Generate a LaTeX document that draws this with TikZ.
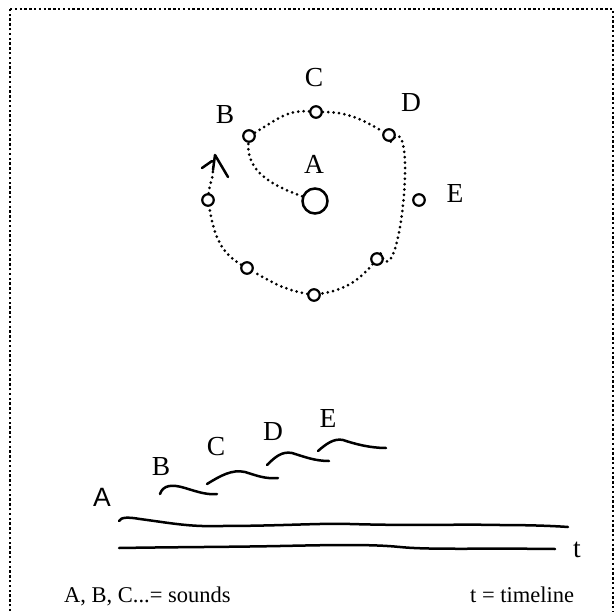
\documentclass[tikz,border=0pt]{standalone}
\usepackage{fontspec}
\setmainfont{Liberation Serif}
\newfontfamily\sansA{Liberation Sans}
\begin{document}
\begin{tikzpicture}[x=1pt,y=-1pt,
  lbl/.style={inner sep=0pt,font=\fontsize{27.5}{27.5}\selectfont},
  lgd/.style={inner sep=0pt,font=\fontsize{22.5}{23}\selectfont,anchor=base west},
  snd/.style={draw,circle,line width=2.2pt,minimum size=11.5pt,inner sep=0pt},
  bigsnd/.style={draw,circle,line width=2.5pt,minimum size=25pt,inner sep=0pt},
  dotpath/.style={line width=3pt,dash pattern=on 0pt off 5.4pt,line cap=round},
  wave/.style={line width=2.5pt,line cap=round},
  frame/.style={line width=2.8pt,dash pattern=on 2.4pt off 2.4pt}]
\useasboundingbox (0,0) rectangle (615,612);
\draw[frame] (10,9) -- (613,9) -- (613,640) (10,640) -- (10,9);

% circle diagram
\node[bigsnd] (nA) at (315,201) {};
\node[snd] (nB) at (249,136) {};
\node[snd] (nC) at (316,112) {};
\node[snd] (nD) at (389,135) {};
\node[snd] (nE) at (419,200) {};
\node[snd] (nF) at (377,259) {};
\node[snd] (nG) at (314,295) {};
\node[snd] (nH) at (247,268) {};
\node[snd] (nI) at (208,200) {};
\coordinate (tip) at (215,155);
\coordinate (armL) at (202,168);
\coordinate (armLs) at (212,161);
\coordinate (armR) at (228,177);
\coordinate (stem) at (213,170);

\node[lbl] (tA) at (314,164) {A};
\node[lbl] (tB) at (225,114.5) {B};
\node[lbl] (tC) at (314,77.5) {C};
\node[lbl] (tD) at (411,103) {D};
\node[lbl] (tE) at (455,193) {E};

\draw[dotpath] (nA) to[out=160,in=-95] (nB);
\draw[dotpath] (nB) to[out=30,in=175] (nC);
\draw[dotpath] (nC) to[out=0,in=150] (nD);
\draw[dotpath] (nD.-75) .. controls +(-55:50) and +(70:55) .. (nF.60);
\draw[dotpath] (nF) to[out=-130,in=10] (nG);
\draw[dotpath] (nG) to[out=170,in=-30] (nH);
\draw[dotpath] (nH) to[out=150,in=-80] (nI);
\draw[dotpath] (nI) to[out=85,in=-90] (stem);
\draw[line width=2.5pt,line cap=round] (tip) -- (armR) (armLs) -- (armL) (tip) -- (stem);

% timeline diagram
\node[inner sep=0pt,font=\sansA\fontsize{26.5}{26.5}\selectfont] (bA) at (102,497) {A};
\node[lbl] (bB) at (161,467) {B};
\node[lbl] (bC) at (216,447) {C};
\node[lbl] (bD) at (273,432) {D};
\node[lbl] (bE) at (328,418) {E};
\node[inner sep=0pt,font=\fontsize{27.5}{27.5}\selectfont,anchor=base] (bt) at (577,557) {t};

\draw[wave] (160,494) .. controls (163,485) and (172,484) .. (185,488) .. controls (198,492) and (207,495) .. (217,494);
\draw[wave] (207,484) .. controls (220,476) and (232,469) .. (245,472) .. controls (258,476) and (265,479) .. (278,478);
\draw[wave] (267,465) .. controls (275,457) and (282,451) .. (292,453) .. controls (305,457) and (315,461) .. (329,461);
\draw[wave] (318,451) .. controls (326,444) and (334,438) .. (343,440) .. controls (355,444) and (370,448) .. (386,448);

\draw[wave] (119,521) .. controls (121,517) and (128,517) .. (140,519) .. controls (170,523) and (190,527) .. (220,526) .. controls (280,526) and (320,523) .. (350,524) .. controls (420,526) and (450,524) .. (500,525) .. controls (530,525) and (555,526) .. (568,527);
\draw[wave] (119,548) .. controls (180,547) and (230,547) .. (280,546) .. controls (330,545) and (370,544) .. (400,547) .. controls (430,550) and (480,548) .. (555,549);

\node[lgd] (leg1) at (64,602) {A, B, C...= sounds};
\node[lgd] (leg2) at (470,602) {t = timeline};
\end{tikzpicture}
\end{document}
